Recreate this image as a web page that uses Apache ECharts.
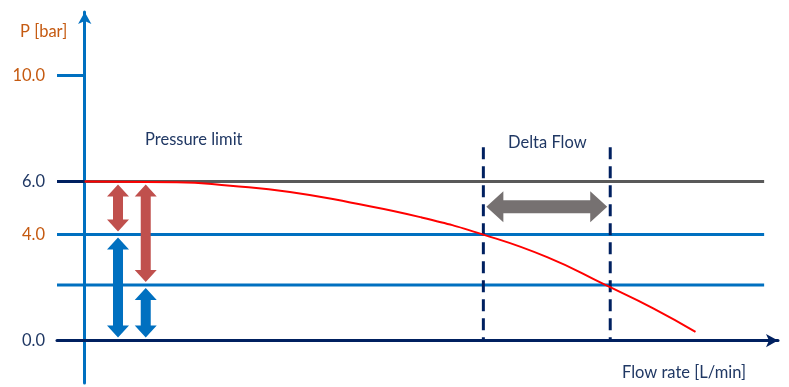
<!DOCTYPE html>
<html lang="en">
<head>
    <meta charset="UTF-8">
    <title>Pump curve</title>
    <script src="https://cdn.jsdelivr.net/npm/echarts@6/dist/echarts.min.js"></script>
</head>
<body style="margin:0;">
<div id="main" style="width:789px;height:387px;"></div>

<script type="text/javascript">
    // pump curve
    var flow = [0, 13.3, 21.0, 29.6, 38.3, 48.4, 57.5, 66.7, 75.1, 82.0, 88.1];
    var pressure = [6.0, 5.98, 5.84, 5.61, 5.21, 4.66, 4.0, 3.15, 2.1, 1.22, 0.33];

    // pressure levels
    var limitP = 6.0, targetP = 4.0, lowP = 2.1;
    var yTicks = [0, 4, 6, 10];
    var yTickColors = ['#203864', '#c55a11', '#203864', '#c55a11'];

    // flow range between the two crossings
    var deltaFlow = [57.5, 75.8];
    var deltaTop = 7.3;
    var deltaArrowP = 5.05;

    // arrows at the left: [x, fromP, toP]
    var redArrows = [[4.8, limitP, targetP], [8.8, limitP, lowP]];
    var blueArrows = [[4.8, targetP, 0], [8.8, lowP, 0]];

    var xMin = -4, xMax = 100, lineEnd = 98;

    var navy = '#002060', textNavy = '#203864', orange = '#c55a11';
    var blue = '#0070c0', red = '#c0504d', grey = '#595959', arrowGrey = '#767171';

    var myChart = echarts.init(document.getElementById('main'));

    function hline(p, color) {
        return {
            type: 'line',
            data: [[xMin, p], [lineEnd, p]],
            symbol: 'none',
            lineStyle: {color: color, width: 3},
            z: 2
        };
    }

    // double headed arrow drawn as polygon, sizes in px
    function arrowSeries(rows, color, body, head, headLen) {
        return {
            type: 'custom',
            data: rows,
            z: 4,
            renderItem: function (params, api) {
                var a = api.coord([api.value(0), api.value(1)]);
                var b = api.coord([api.value(2), api.value(3)]);
                var dx = b[0] - a[0], dy = b[1] - a[1];
                var len = Math.sqrt(dx * dx + dy * dy);
                var ux = dx / len, uy = dy / len;
                var nx = -uy, ny = ux;
                var gap = 3;
                var s = [a[0] + ux * gap, a[1] + uy * gap];
                var e = [b[0] - ux * gap, b[1] - uy * gap];
                var s2 = [s[0] + ux * headLen, s[1] + uy * headLen];
                var e2 = [e[0] - ux * headLen, e[1] - uy * headLen];
                function off(p, w) { return [p[0] + nx * w, p[1] + ny * w]; }
                var pts = [s,
                    off(s2, head), off(s2, body), off(e2, body), off(e2, head),
                    e,
                    off(e2, -head), off(e2, -body), off(s2, -body), off(s2, -head)];
                return {type: 'polygon', shape: {points: pts}, style: {fill: color}};
            }
        };
    }

    var font = 'Lato', fs = 16.5;
    function label(text, x, y, color) {
        return {text: text, left: x, top: y, padding: 0,
            textStyle: {color: color, fontFamily: font, fontSize: fs, fontWeight: 'normal'}};
    }

    var option = {
        backgroundColor: '#fff',
        animation: false,
        title: [
            label('P [bar]', 20, 23, orange),
            label('Pressure limit', 145, 131, textNavy),
            label('Delta Flow', 508, 134, textNavy),
            label('Flow rate [L/min]', 622, 364, textNavy)
        ],
        grid: {left: 57, right: 11, top: 12, bottom: 4, outerBoundsMode: 'none', containLabel: false},
        xAxis: {
            type: 'value',
            min: xMin,
            max: xMax,
            splitLine: {show: false},
            axisTick: {show: false},
            axisLabel: {show: false},
            axisLine: {
                onZero: true,
                lineStyle: {color: navy, width: 3},
                symbol: ['none', 'arrow'],
                symbolSize: [10, 12]
            },
            z: 5
        },
        yAxis: {
            type: 'value',
            min: -1.6,
            max: 12.4,
            splitLine: {show: false},
            axisTick: {show: false},
            axisLine: {
                onZero: true,
                lineStyle: {color: blue, width: 3},
                symbol: ['none', 'arrow'],
                symbolSize: [10, 12]
            },
            axisLabel: {
                customValues: yTicks,
                margin: 12,
                fontFamily: font,
                fontSize: fs,
                formatter: function (v) { return Number(v).toFixed(1); },
                color: function (v) {
                    var i = yTicks.indexOf(Number(v));
                    return i < 0 ? textNavy : yTickColors[i];
                }
            }
        },
        series: [
            hline(limitP, grey),
            hline(targetP, blue),
            hline(lowP, blue),
            {
                type: 'line', symbol: 'none', z: 3,
                data: [[xMin, yTicks[3]], [0, yTicks[3]]],
                lineStyle: {color: blue, width: 3}
            },
            {
                type: 'line', symbol: 'none', z: 3,
                data: [[xMin, limitP], [0, limitP]],
                lineStyle: {color: navy, width: 3}
            },
            {
                type: 'line', symbol: 'none', z: 3,
                data: [[deltaFlow[0], deltaTop], [deltaFlow[0], 0]],
                lineStyle: {color: navy, width: 3, type: [12, 7]}
            },
            {
                type: 'line', symbol: 'none', z: 3,
                data: [[deltaFlow[1], deltaTop], [deltaFlow[1], 0]],
                lineStyle: {color: navy, width: 3, type: [12, 7]}
            },
            {
                type: 'line', symbol: 'none', z: 4,
                smooth: 0.5,
                data: flow.map(function (q, i) { return [q, pressure[i]]; }),
                lineStyle: {color: '#ff0000', width: 2}
            },
            arrowSeries(redArrows.map(function (r) { return [r[0], r[1], r[0], r[2]]; }), red, 5, 11, 12),
            arrowSeries(blueArrows.map(function (r) { return [r[0], r[1], r[0], r[2]]; }), blue, 5, 11, 12),
            arrowSeries([[deltaFlow[0], deltaArrowP, deltaFlow[1], deltaArrowP]], arrowGrey, 6.5, 15.5, 17)
        ]
    };
    myChart.setOption(option);
</script>
</body>
</html>
